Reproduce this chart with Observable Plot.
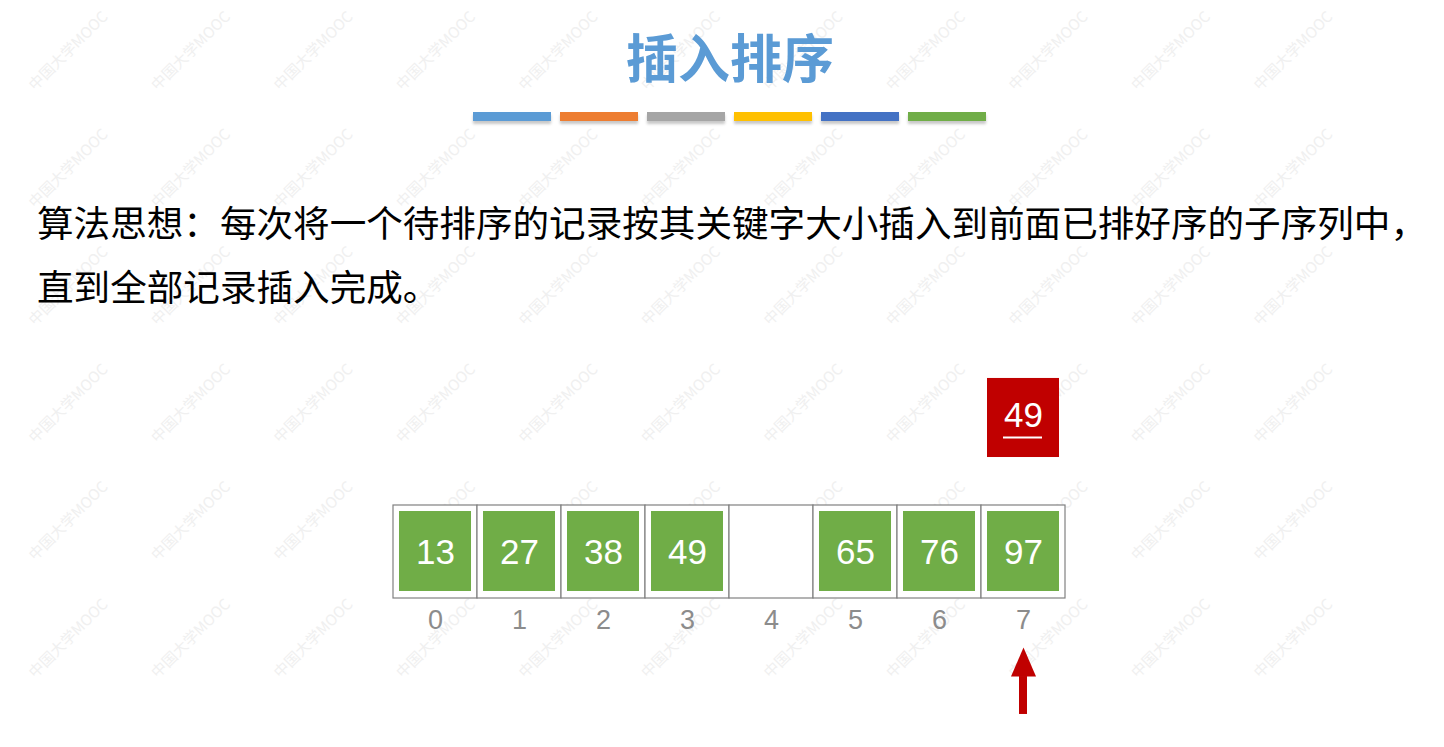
<!DOCTYPE html>
<html>
<head>
<meta charset="utf-8">
<script src="https://cdn.jsdelivr.net/npm/d3@7"></script>
<script src="https://cdn.jsdelivr.net/npm/@observablehq/plot@0.6"></script>
<style>
  html, body { margin: 0; padding: 0; background: #fff; width: 1444px; height: 747px; overflow: hidden; }
  #page { position: relative; width: 1444px; height: 747px; }
  .layer { position: absolute; left: 0; top: 0; }
  #title { position: absolute; left: 730px; top: 25px; transform: translateX(-50%);
    font-family: "Noto Sans CJK SC", sans-serif; font-weight: 700; font-size: 52px; line-height: 62px;
    color: #5B9BD5; white-space: nowrap; }
  #bars { position: absolute; left: 473px; top: 112px; display: flex; gap: 9px; }
  #bars div { width: 78px; height: 9px; box-shadow: 0 3px 3px rgba(0,0,0,0.22); }
  #desc { position: absolute; left: 37px; top: 190px; font-family: "Noto Sans CJK SC", sans-serif;
    font-size: 36.6px; line-height: 64px; color: #000; white-space: nowrap; }
</style>
</head>
<body>
<div id="page">
  <div id="wm" class="layer"></div>
  <div id="chart" class="layer"></div>
  <div id="title"></div>
  <div id="bars"></div>
  <div id="desc"></div>
</div>
<script>
// ---- data ----
const titleText = "插入排序";
const descLines = [
  "算法思想：每次将一个待排序的记录按其关键字大小插入到前面已排好序的子序列中，",
  "直到全部记录插入完成。"
];
const barColors = ["#5B9BD5", "#ED7D31", "#A5A5A5", "#FFC000", "#4472C4", "#70AD47"];
const indices = [0, 1, 2, 3, 4, 5, 6, 7];
const values = [13, 27, 38, 49, null, 65, 76, 97];
const keyValues = ["49"];      // element being inserted (the underlined 49)
const keyIndex = [7];          // its column
const arrowIndex = [7];        // current position pointer
const watermarkText = "中国大学MOOC";

// ---- html text ----
document.getElementById("title").textContent = titleText;
const bars = document.getElementById("bars");
barColors.forEach(c => { const d = document.createElement("div"); d.style.background = c; bars.appendChild(d); });
const desc = document.getElementById("desc");
descLines.forEach(t => { const d = document.createElement("div"); d.textContent = t; desc.appendChild(d); });

// ---- watermark ----
const wmCols = d3.range(0, 11), wmRows = d3.range(0, 6);
const wmData = d3.cross(wmCols, wmRows).map(([c, r]) => ({c, r}));
const wm = Plot.plot({
  width: 1444, height: 747, margin: 0,
  x: {type: "linear", domain: [-0.555, 11.233], range: [0, 1444], axis: null},
  y: {type: "linear", domain: [-0.43, 5.927], range: [0, 747], axis: null},
  style: {background: "transparent"},
  marks: [
    Plot.text(wmData, {x: "c", y: "r", text: () => watermarkText, rotate: -45,
      fill: "#f0f0f0", fontSize: 15, fontFamily: "Noto Sans CJK SC, sans-serif"})
  ]
});
document.getElementById("wm").appendChild(wm);

// ---- array chart ----
const cells = indices.map((i, k) => ({i, v: values[k]}));
const filled = cells.filter(d => d.v != null);
const numFont = "Liberation Sans Narrow, Liberation Sans, Arial, sans-serif";
const red = "#C00000";
const headSymbol = {
  draw(ctx) { ctx.moveTo(0, 0); ctx.lineTo(12.5, 29); ctx.lineTo(-12.5, 29); ctx.closePath(); }
};

const chart = Plot.plot({
  width: 1444, height: 747, margin: 0,
  x: {type: "band", domain: indices, range: [391.7, 1067.3], padding: 0, axis: null},
  y: {type: "linear", domain: [0, 1], range: [598, 505], axis: null},
  style: {background: "transparent"},
  marks: [
    Plot.barY(cells, {x: "i", y1: () => 0, y2: () => 1, fill: "white", stroke: "#808080", strokeWidth: 1.2}),
    Plot.barY(filled, {x: "i", y1: () => 0, y2: () => 1, fill: "#70AD47",
      insetLeft: 6, insetRight: 6, insetTop: 6, insetBottom: 7}),
    Plot.text(filled, {x: "i", y: () => 0.49, text: d => String(d.v), fill: "white",
      fontSize: 35, fontFamily: numFont, lineAnchor: "middle"}),
    Plot.text(indices, {x: d => d, y: () => -0.24, text: d => String(d), fill: "#8c8c8c",
      fontSize: 27, fontFamily: numFont, lineAnchor: "middle"}),
    // key to insert
    Plot.barY(keyIndex, {x: d => d, y1: () => 1.516, y2: () => 2.366, fill: red, insetLeft: 6, insetRight: 6}),
    Plot.text(keyIndex, {x: d => d, y: () => 1.96, text: (d, k) => keyValues[k], fill: "white",
      fontSize: 35, fontFamily: numFont, lineAnchor: "middle"}),
    Plot.tickY(keyIndex, {x: d => d, y: () => 1.731, stroke: "white", strokeWidth: 2, insetLeft: 22, insetRight: 23}),
    // pointer arrow
    Plot.barY(arrowIndex, {x: d => d, y1: () => -1.247, y2: () => -0.839, fill: red, insetLeft: 38, insetRight: 38}),
    Plot.dot(arrowIndex, {x: d => d, y: () => -0.527, symbol: headSymbol, fill: red, stroke: "none"})
  ]
});
document.getElementById("chart").appendChild(chart);
</script>
</body>
</html>
